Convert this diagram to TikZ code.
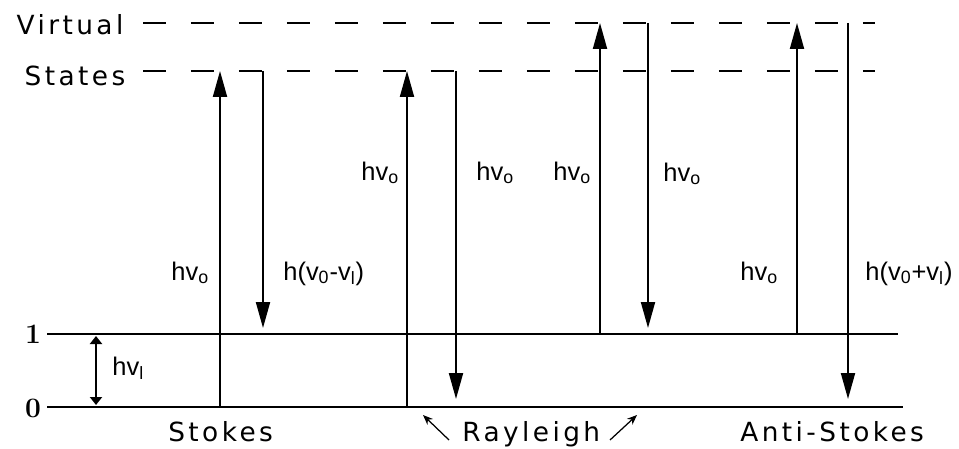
\documentclass[tikz,border=0pt]{standalone}
\usepackage{fontspec}
\usetikzlibrary{arrows.meta}
\newfontfamily\wordfont[LetterSpace=13]{DejaVu Sans}
\newfontfamily\symfont{Liberation Sans}
\begin{document}
\begin{tikzpicture}[x=0.02cm,y=-0.02cm,
  lbl/.style={font=\wordfont\fontsize{15}{17}\selectfont, inner sep=0pt},
  sym/.style={font=\symfont\fontsize{14.5}{16}\selectfont, inner sep=0pt, anchor=base west},
  num/.style={font=\rmfamily\bfseries\fontsize{16}{18}\selectfont, inner sep=0pt},
  lvl/.style={line width=0.04cm},
  virt/.style={line width=0.04cm, dash pattern=on 0.46cm off 0.5cm},
  trans/.style={line width=0.04cm, -{Triangle[length=0.52cm,width=0.28cm]}},
  gap/.style={line width=0.04cm, {Triangle[length=0.16cm,width=0.24cm]}-{Triangle[length=0.16cm,width=0.24cm]}},
  pointer/.style={line width=0.025cm, -{Stealth[length=0.2cm,width=0.16cm]}}]
\useasboundingbox (0,0) rectangle (959,449);
% level end points
\coordinate (v1L) at (143,23);  \coordinate (v1R) at (875,23);
\coordinate (v2L) at (143,71);  \coordinate (v2R) at (875,71);
\coordinate (l1L) at (47,334);  \coordinate (l1R) at (898,334);
\coordinate (l0L) at (47,407);  \coordinate (l0R) at (903,407);
% levels
\draw[virt] (v1L) -- (v1R);
\draw[virt] (v2L) -- (v2R);
\draw[lvl] (l1L) -- (l1R);
\draw[lvl] (l0L) -- (l0R);
% level labels
\node[lbl] (virtual) at (70,25) {Virtual};
\node[lbl] (states) at (75,76) {States};
\node[num] (n1) at (33,334) {1};
\node[num] (n0) at (33,408) {0};
% vibrational gap
\coordinate (g1) at (96,336); \coordinate (g0) at (96,405);
\draw[gap] (g1) -- (g0);
\node[sym] (hvl) at (112,375) {hv\textsubscript{l}};
% Stokes
\coordinate (s1a) at (220,407); \coordinate (s1b) at (220,71);
\coordinate (s2a) at (263,71);  \coordinate (s2b) at (263,328);
\draw[trans] (s1a) -- (s1b);
\draw[trans] (s2a) -- (s2b);
\node[sym] (sl1) at (171,280) {hv\textsubscript{o}};
\node[sym] (sl2) at (283,280) {h(v\textsubscript{0}-v\textsubscript{l})};
% Rayleigh from 0
\coordinate (r1a) at (407,407); \coordinate (r1b) at (407,71);
\coordinate (r2a) at (456,71);  \coordinate (r2b) at (456,399);
\draw[trans] (r1a) -- (r1b);
\draw[trans] (r2a) -- (r2b);
\node[sym] (rl1) at (361,180) {hv\textsubscript{o}};
\node[sym] (rl2) at (476,180) {hv\textsubscript{o}};
% Rayleigh from 1
\coordinate (q1a) at (600,334); \coordinate (q1b) at (600,23);
\coordinate (q2a) at (648,23);  \coordinate (q2b) at (648,328);
\draw[trans] (q1a) -- (q1b);
\draw[trans] (q2a) -- (q2b);
\node[sym] (ql1) at (553,180) {hv\textsubscript{o}};
\node[sym] (ql2) at (663,181) {hv\textsubscript{o}};
% Anti-Stokes
\coordinate (a1a) at (797,334); \coordinate (a1b) at (797,23);
\coordinate (a2a) at (848,23);  \coordinate (a2b) at (848,399);
\draw[trans] (a1a) -- (a1b);
\draw[trans] (a2a) -- (a2b);
\node[sym] (al1) at (740,280) {hv\textsubscript{o}};
\node[sym] (al2) at (865,280) {h(v\textsubscript{0}+v\textsubscript{l})};
% bottom labels
\node[lbl, anchor=base west] (stokes) at (168,441) {Stokes};
\node[lbl, anchor=base west] (rayleigh) at (462,441) {Rayleigh};
\node[lbl, anchor=base west] (anti) at (740,441) {Anti-Stokes};
\coordinate (p1a) at (449,440); \coordinate (p1b) at (423,415);
\coordinate (p2a) at (610,440); \coordinate (p2b) at (637,415);
\draw[pointer] (p1a) -- (p1b);
\draw[pointer] (p2a) -- (p2b);
\end{tikzpicture}
\end{document}
